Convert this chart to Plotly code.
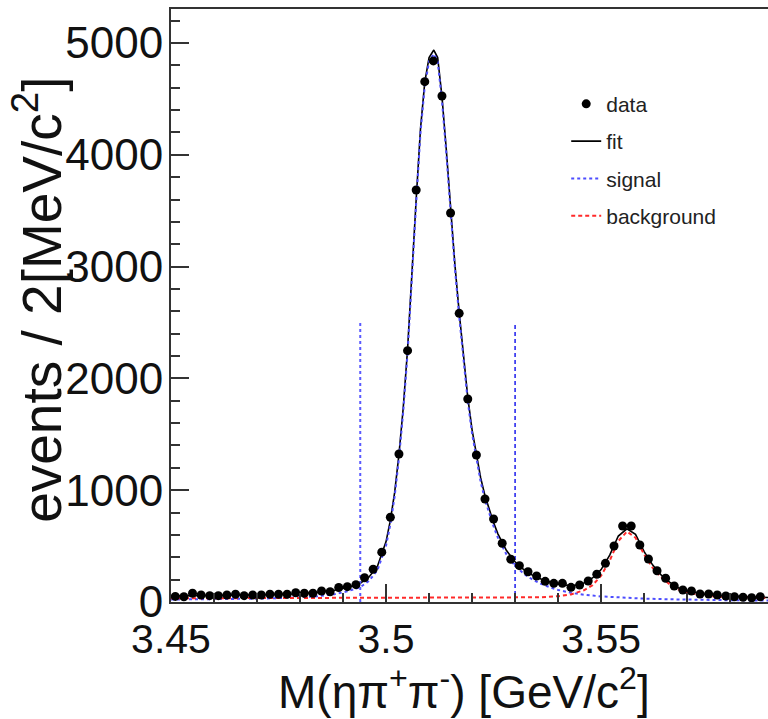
import plotly.graph_objects as go

# ---------------- data ----------------
mass = [3.451, 3.453, 3.455, 3.457, 3.459, 3.461, 3.463, 3.465, 3.467, 3.469,
        3.471, 3.473, 3.475, 3.477, 3.479, 3.481, 3.483, 3.485, 3.487, 3.489,
        3.491, 3.493, 3.495, 3.497, 3.499, 3.501, 3.503, 3.505, 3.507, 3.509,
        3.511, 3.513, 3.515, 3.517, 3.519, 3.521, 3.523, 3.525, 3.527, 3.529,
        3.531, 3.533, 3.535, 3.537, 3.539, 3.541, 3.543, 3.545, 3.547, 3.549,
        3.551, 3.553, 3.555, 3.557, 3.559, 3.561, 3.563, 3.565, 3.567, 3.569,
        3.571, 3.573, 3.575, 3.577, 3.579, 3.581, 3.583, 3.585, 3.587]
events = [50, 47, 78, 63, 57, 57, 63, 69, 57, 63,
          63, 69, 69, 69, 83, 78, 78, 98, 92, 130,
          137, 155, 217, 293, 446, 758, 1324, 2248, 3685, 4654,
          4840, 4526, 3479, 2582, 1816, 1315, 921, 742, 525, 382,
          325, 271, 233, 185, 167, 167, 131, 152, 188, 248,
          346, 501, 680, 680, 510, 385, 280, 212, 143, 107,
          98, 72, 72, 63, 54, 47, 42, 38, 47]

fit_x = [3.450, 3.460, 3.470, 3.478, 3.484, 3.488, 3.491, 3.494, 3.496, 3.498,
         3.500, 3.501, 3.502, 3.503, 3.504, 3.505, 3.506, 3.507, 3.508, 3.509,
         3.510, 3.5111, 3.512, 3.513, 3.514, 3.515, 3.516, 3.517, 3.518, 3.519,
         3.520, 3.521, 3.522, 3.523, 3.524, 3.525, 3.526, 3.527, 3.528, 3.530,
         3.532, 3.534, 3.536, 3.538, 3.540, 3.542, 3.544, 3.546, 3.548, 3.550,
         3.552, 3.554, 3.556, 3.558, 3.560, 3.562, 3.564, 3.566, 3.568, 3.570,
         3.574, 3.578, 3.583, 3.5888]
fit_y = [55, 58, 64, 72, 86, 105, 130, 168, 222, 320,
         540, 730, 980, 1320, 1740, 2260, 2880, 3600, 4230, 4650,
         4870, 4937, 4870, 4520, 4050, 3520, 3020, 2590, 2180, 1830,
         1540, 1310, 1110, 950, 820, 710, 610, 530, 460, 360,
         290, 240, 205, 180, 160, 150, 150, 170, 215, 290,
         420, 590, 655, 605, 450, 330, 240, 175, 125, 100,
         70, 55, 45, 40]

sig_x = [3.450, 3.460, 3.470, 3.478, 3.484, 3.488, 3.491, 3.494, 3.496, 3.498,
         3.500, 3.501, 3.502, 3.503, 3.504, 3.505, 3.506, 3.507, 3.508, 3.509,
         3.510, 3.5111, 3.512, 3.513, 3.514, 3.515, 3.516, 3.517, 3.518, 3.519,
         3.520, 3.521, 3.522, 3.523, 3.524, 3.525, 3.526, 3.527, 3.528, 3.530,
         3.532, 3.534, 3.536, 3.538, 3.540, 3.543, 3.546, 3.550, 3.555, 3.560,
         3.565, 3.570, 3.578, 3.5888]
sig_y = [22, 25, 30, 38, 51, 70, 95, 133, 187, 285,
         505, 695, 945, 1285, 1705, 2225, 2845, 3565, 4195, 4615,
         4835, 4902, 4835, 4485, 4015, 3485, 2985, 2555, 2145, 1795,
         1505, 1275, 1075, 915, 785, 675, 575, 495, 425, 323,
         253, 202, 163, 133, 108, 82, 65, 50, 38, 30,
         25, 21, 17, 13]

bkg_x = [3.450, 3.500, 3.530, 3.536, 3.540, 3.543, 3.546, 3.548, 3.550, 3.552,
         3.554, 3.556, 3.558, 3.560, 3.562, 3.564, 3.566, 3.568, 3.570, 3.574,
         3.578, 3.583, 3.5888]
bkg_y = [33, 35, 38, 42, 52, 68, 105, 150, 235, 370,
         545, 630, 575, 425, 305, 220, 155, 110, 82, 58,
         46, 39, 36]

cut_lo = 3.494
cut_hi = 3.530
cut_height = 2500

x_range = [3.45, 3.5888]
y_range = [0, 5304]
x_tickvals = [3.45, 3.5, 3.55]
x_ticktext = ["3.45", "3.5", "3.55"]
y_tickvals = [0, 1000, 2000, 3000, 4000, 5000]

FONT = "Liberation Sans, Arial, sans-serif"

fig = go.Figure()

fig.add_trace(go.Scatter(x=fit_x, y=fit_y, mode="lines", name="fit",
                         line=dict(color="black", width=1.6),
                         legendgroup="g2", legendrank=2))
fig.add_trace(go.Scatter(x=sig_x, y=sig_y, mode="lines", name="signal",
                         line=dict(color="#4d4dff", width=2, dash="dot"),
                         legendgroup="g3", legendrank=3))
fig.add_trace(go.Scatter(x=bkg_x, y=bkg_y, mode="lines", name="background",
                         line=dict(color="#ff2a2a", width=2, dash="4px,3px"),
                         legendgroup="g4", legendrank=4))
fig.add_trace(go.Scatter(x=[cut_lo, cut_lo], y=[0, cut_height], mode="lines",
                         line=dict(color="#5a5aff", width=2, dash="dot"),
                         showlegend=False, hoverinfo="skip"))
fig.add_trace(go.Scatter(x=[cut_hi, cut_hi], y=[0, cut_height], mode="lines",
                         line=dict(color="#2a2aee", width=1.6, dash="4px,3px"),
                         showlegend=False, hoverinfo="skip"))
fig.add_trace(go.Scatter(x=mass, y=events, mode="markers", name="data",
                         marker=dict(color="black", size=9),
                         legendgroup="g1", legendrank=1))

fig.update_layout(
    width=768, height=719,
    margin=dict(l=171, r=0, t=9, b=117),
    paper_bgcolor="white", plot_bgcolor="white",
    font=dict(family=FONT, color="black"),
    showlegend=True,
    legend=dict(x=0.662, y=0.874, xanchor="left", yanchor="top",
                font=dict(size=21, family=FONT, color="#222"),
                bgcolor="rgba(0,0,0,0)", tracegroupgap=7,
                traceorder="grouped"),
    xaxis=dict(range=x_range, showgrid=False, zeroline=False,
               showline=True, linecolor="#333", linewidth=2, mirror=True,
               ticks="inside", ticklen=18, tickwidth=2, tickcolor="#333",
               tickvals=x_tickvals, ticktext=x_ticktext,
               minor=dict(ticks="inside", ticklen=9, tickwidth=1.5,
                          tickcolor="#333", dtick=0.01, tick0=3.45),
               tickfont=dict(size=41, family=FONT, color="#111")),
    yaxis=dict(range=y_range, showgrid=False, zeroline=False,
               showline=True, linecolor="#333", linewidth=2,
               ticks="inside", ticklen=18, tickwidth=2, tickcolor="#333",
               tickvals=y_tickvals,
               minor=dict(ticks="inside", ticklen=9, tickwidth=1.5,
                          tickcolor="#333", dtick=200, tick0=0),
               tickfont=dict(size=44, family=FONT, color="#111"),
               ticklabelstandoff=-3),
    annotations=[
        dict(text="M(ηπ<sup>+</sup>π<sup>-</sup>) [GeV/c<sup>2</sup>]",
             xref="paper", yref="paper", x=0.491, y=-0.147,
             xanchor="center", yanchor="middle", showarrow=False,
             font=dict(size=46, family=FONT, color="#111")),
        dict(text="events / 2[MeV/c<sup>2</sup>]",
             xref="paper", yref="paper", x=-0.224, y=0.51,
             xanchor="center", yanchor="middle", showarrow=False,
             textangle=-90,
             font=dict(size=55, family=FONT, color="#111")),
    ],
)

fig.write_html("out.html")
